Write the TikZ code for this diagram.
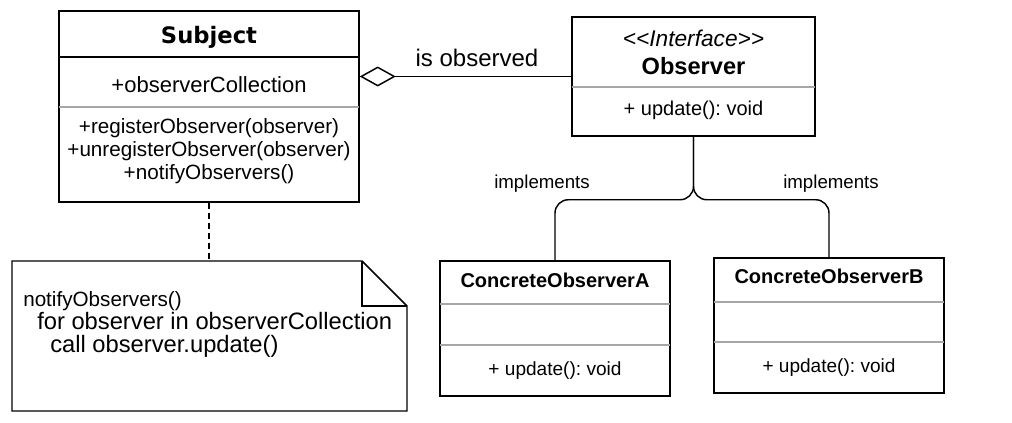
\documentclass[tikz,border=0pt]{standalone}
\usepackage{fontspec}
\setmainfont{Liberation Sans}
\newfontfamily\verdana{DejaVu Sans}
\usepackage{tikz}
\usetikzlibrary{arrows.meta,positioning}
\frenchspacing

\begin{document}
\begin{tikzpicture}[x=0.75pt,y=-0.75pt,
  boite/.style={draw,line width=1.1pt,inner sep=0pt},
  sep/.style={draw=black!35,line width=0.8pt},
  txt/.style={inner sep=0pt,font=\fontsize{15}{18}\selectfont},
  gras/.style={inner sep=0pt,font=\bfseries\fontsize{15}{18}\selectfont},
  lien/.style={line width=1.1pt,rounded corners=10}]
\def\px{0.75pt}
\useasboundingbox (0,0) rectangle (1012,422);
% Subject
\node[boite,minimum width=300*\px,minimum height=191*\px] (subject) at (209,106.5) {};
\draw[line width=1.1pt] (59,57)--(359,57);
\draw[sep] (59,107)--(359,107);
\node[inner sep=0pt,font=\verdana\bfseries\fontsize{17}{20}\selectfont] (subjectnom) at (209,37) {Subject};
\node[txt,font=\fontsize{16.5}{18}\selectfont] (subjectattr) at (209,85) {+observerCollection};
\node[txt,align=center,font=\fontsize{15.5}{17.3}\selectfont] (subjectops) at (209,151)
  {+registerObserver(observer)\\+unregisterObserver(observer)\\+notifyObservers()};
% Observer
\node[boite,minimum width=243*\px,minimum height=119*\px] (observer) at (693.5,76.5) {};
\draw[sep] (572,87)--(815,87);
\node[txt,font=\itshape\fontsize{17}{18}\selectfont] (stereo) at (693.5,38) {<\kern0pt<Interface>\kern0pt>};
\node[gras,font=\bfseries\fontsize{17.7}{20}\selectfont] (observernom) at (693.5,66) {Observer};
\node[txt] (observerop) at (693.5,110) {+ update(): void};
% ConcreteObserverA
\node[boite,minimum width=230*\px,minimum height=135*\px] (concreteA) at (555,328.5) {};
\draw[sep] (440,304)--(670,304) (440,345)--(670,345);
\node[gras,anchor=base] (nomA) at (555,287) {ConcreteObserverA};
\node[txt,anchor=base,font=\fontsize{14.3}{18}\selectfont] (opA) at (555,375) {+ update(): void};
% ConcreteObserverB
\node[boite,minimum width=230*\px,minimum height=135*\px] (concreteB) at (829,325.5) {};
\draw[sep] (714,302)--(944,302) (714,342)--(944,342);
\node[gras,anchor=base] (nomB) at (829,283) {ConcreteObserverB};
\node[txt,anchor=base,font=\fontsize{14.3}{18}\selectfont] (opB) at (829,372) {+ update(): void};
% note
\node[inner sep=0pt,minimum width=395*\px,minimum height=150*\px] (note) at (208,336) {};
\draw[line width=1.1pt] (12,261)--(362,261)--(407,306)--(407,411)--(12,411)--cycle;
\draw[line width=1.1pt] (362,261)--(362,306)--(407,306);
\node[txt,anchor=base west,font=\fontsize{15.5}{18}\selectfont] (noteA) at (23,306) {notifyObservers()};
\node[txt,anchor=base west,font=\fontsize{17.8}{20}\selectfont] (noteB) at (37,329) {for observer in observerCollection};
\node[txt,anchor=base west,font=\fontsize{17.8}{20}\selectfont] (noteC) at (50,352) {call observer.update()};
% liens
\draw[line width=1.1pt,-{Diamond[open,length=27pt,width=15pt]}] (observer.west)--(subject.east|-observer.west);
\node[txt,anchor=base,font=\fontsize{18}{20}\selectfont] (isobs) at (477,66) {is observed};
\draw[lien] (observer.south)--++(0,63)-|(concreteA.north);
\draw[lien] (observer.south)--++(0,63)-|(concreteB.north);
\node[txt,anchor=base,font=\fontsize{14}{16}\selectfont] (implA) at (542,188) {implements};
\node[txt,anchor=base,font=\fontsize{14}{16}\selectfont] (implB) at (831,188) {implements};
\draw[line width=0.9pt,dash pattern=on 5pt off 2.5pt] (subject.south)--(subject.south|-note.north);
\end{tikzpicture}
\end{document}
